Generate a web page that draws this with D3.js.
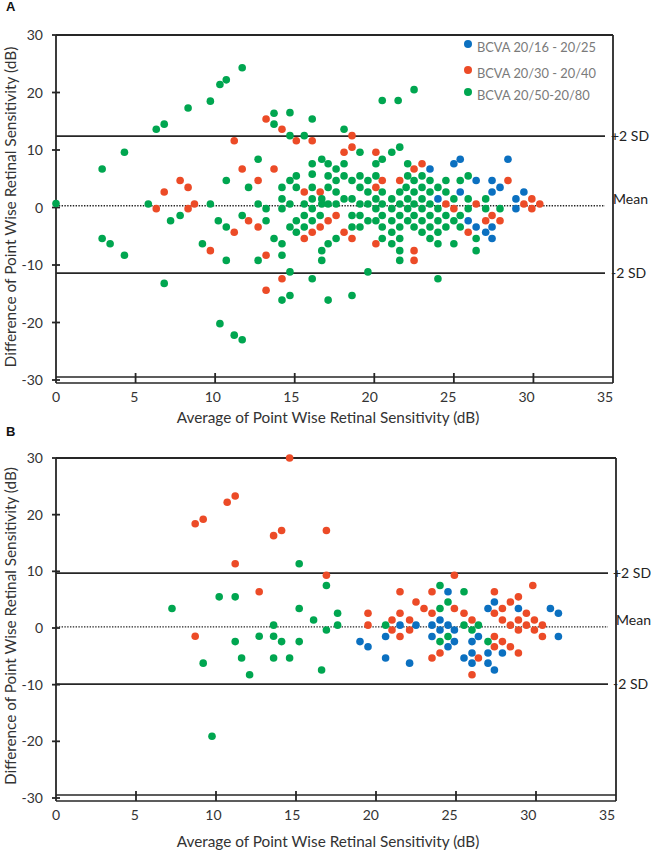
<!DOCTYPE html>
<html><head><meta charset="utf-8">
<script src="https://cdn.jsdelivr.net/npm/d3@7"></script>
<style>body{margin:0;background:#fff}svg{display:block}</style>
</head><body><svg id="c" width="651" height="852"></svg>
<script>
const xTicks=[0,5,10,15,20,25,30,35];
const yTicks=[30,20,10,0,-10,-20,-30];
const seriesNames=["BCVA 20/16 - 20/25","BCVA 20/30 - 20/40","BCVA 20/50-20/80"];
const seriesColors=["#0b70c0","#ec4b27","#00a650"];
const statLabels=["+2 SD","Mean","-2 SD"];
const statsA=[12.4,0.3,-11.4];
const statsB=[9.7,0.2,-9.9];
const xTitle="Average of Point Wise Retinal Sensitivity (dB)";
const yTitle="Difference of Point Wise Retinal Sensitivity (dB)";

const blueA=[[25.4,8.4],[25.0,7.6],[28.4,8.4],[23.5,6.7],[26.4,4.7],[27.4,4.7],[27.9,3.5],[25.4,2.7],[27.4,2.7],[29.4,2.7],[24.0,1.5],[28.9,1.5],[28.9,-0.2],[25.9,-2.3],[26.4,-3.4],[27.4,-3.4],[27.0,-4.3],[27.4,-5.4]];
const redA=[[6.3,-0.2],[6.8,2.7],[7.8,4.7],[8.3,3.5],[8.3,-0.2],[8.7,0.6],[13.2,15.4],[14.2,13.6],[18.6,12.5],[11.2,11.6],[15.1,11.6],[16.1,11.6],[18.6,10.5],[18.1,9.6],[11.7,6.7],[13.7,6.7],[12.7,4.7],[15.6,2.7],[16.6,2.7],[17.6,-1.4],[12.1,-2.3],[17.1,-2.3],[12.7,-3.4],[16.6,-3.4],[11.2,-4.3],[16.1,-4.3],[18.1,-4.3],[15.6,-5.4],[18.6,-5.4],[9.7,-7.5],[13.2,-8.3],[14.2,-12.4],[13.2,-14.4],
[20.1,9.6],[23.0,7.6],[22.5,6.7],[20.5,4.7],[21.6,4.7],[28.4,4.7],[20.1,3.5],[29.9,1.5],[24.5,0.6],[26.4,0.6],[29.4,0.6],[30.4,0.6],[25.0,-0.2],[29.9,-0.2],[27.4,-1.4],[27.0,-2.3],[27.9,-2.3],[25.9,-4.3],[20.1,-6.3],[22.5,-7.5],[22.5,-9.2]];
const greenA=[[0,0.7],[2.9,6.7],[4.3,9.6],[6.3,13.6],[6.8,14.5],[5.8,0.6],[2.9,-5.4],[3.4,-6.3],[4.3,-8.3],[6.8,-13.2],[7.2,-2.3],[7.8,-1.4],
[8.3,17.3],[9.7,18.5],[10.3,21.4],[10.7,22.2],[11.7,24.3],[20.5,18.6],[21.5,18.6],[22.5,20.5],
[10.3,-20.2],[11.2,-22.2],[11.7,-23.0],[14.2,-16.1],[17.1,-16.1],
[13.7,16.4],[14.7,16.5],[16.1,15.4],[13.7,14.5],[18.1,13.6],[14.7,12.5],[15.6,12.5],[19.1,9.6],[12.7,8.4],[16.1,7.6],[16.7,8.4],[17.1,7.6],[18.1,7.6],[17.6,6.7],[16.1,5.8],[17.1,5.5],[18.1,5.5],[15.1,5.5],[19.1,5.5],[10.7,4.7],[14.7,4.7],[17.6,4.7],[18.6,4.7],[19.6,4.7],[12.1,3.5],[14.2,3.5],[15.1,3.5],[16.1,3.5],[17.1,3.5],[19.1,3.5],[17.6,2.7],[19.6,2.7],[14.2,1.5],[16.1,1.5],[16.7,1.5],[18.1,1.5],[18.6,1.5],[9.7,0.6],[12.7,0.6],[14.7,0.6],[15.6,0.6],[16.7,0.6],[17.1,0.6],[17.6,0.6],[19.1,0.6],[19.6,0.6],[13.2,-0.2],[14.2,-0.2],[16.1,-0.2],[11.7,-1.4],[15.6,-1.4],[16.6,-1.4],[18.6,-1.4],[19.1,-1.4],[10.2,-2.3],[13.2,-2.3],[15.1,-2.3],[16.1,-2.3],[19.6,-2.3],[10.7,-3.4],[14.7,-3.4],[15.6,-3.4],[18.6,-3.4],[19.1,-3.4],[15.1,-4.3],[17.6,-5.4],[13.7,-5.4],[17.1,-6.3],[14.2,-6.3],[9.2,-6.3],[16.7,-7.5],[14.2,-8.3],[10.7,-9.2],[12.7,-9.2],[16.7,-9.2],[14.7,-11.2],[19.6,-11.2],[16.1,-12.4],[14.7,-15.3],[18.6,-15.3],
[21.6,10.5],[21.1,9.6],[20.5,8.4],[20.1,7.6],[22.1,7.6],[20.1,5.5],[22.1,5.5],[23.0,5.5],[25.9,5.5],[22.5,4.7],[23.5,4.7],[24.5,4.7],[25.4,4.7],[22.0,3.5],[23.0,3.5],[24.0,3.5],[20.5,2.7],[21.6,2.7],[22.5,2.7],[23.5,2.7],[24.5,2.7],[20.1,1.5],[21.1,1.5],[22.1,1.5],[23.0,1.5],[25.0,1.5],[25.9,1.5],[27.0,1.5],[20.5,0.6],[21.6,0.6],[22.5,0.6],[23.5,0.6],[20.1,-0.2],[21.1,-0.2],[22.1,-0.2],[23.0,-0.2],[24.0,-0.2],[25.9,-0.2],[27.0,-0.2],[27.9,-0.2],[20.5,-1.4],[21.6,-1.4],[22.5,-1.4],[23.5,-1.4],[24.5,-1.4],[25.4,-1.4],[20.1,-2.3],[21.1,-2.3],[22.1,-2.3],[23.0,-2.3],[24.0,-2.3],[25.0,-2.3],[20.5,-3.4],[21.6,-3.4],[22.5,-3.4],[23.5,-3.4],[24.5,-3.4],[25.4,-3.4],[21.1,-4.3],[23.0,-4.3],[24.0,-4.3],[20.5,-5.4],[21.6,-5.4],[23.5,-5.4],[26.4,-5.4],[21.1,-6.3],[24.0,-6.3],[25.0,-6.3],[21.6,-7.5],[26.4,-7.5],[21.6,-9.2],[24.0,-12.4]];

const blueB=[[19.0,-2.4],[19.5,-3.3],[20.6,-1.5],[20.6,-5.3],[21.5,0.5],[22.5,0.5],[22.1,-6.2],[23.5,0.5],[24.0,1.4],[24.0,-0.35],[23.5,-1.5],[24.5,6.4],[24.5,0.5],[24.9,-0.35],[24.9,-2.4],[24.5,-3.3],[26.0,-2.4],[26.4,-1.5],[25.5,-5.3],[26.0,-4.4],[26.0,-6.2],[27.0,-4.4],[27.0,-6.2],[27.4,-7.4],[27.0,3.45],[27.4,4.6],[28.9,3.45],[27.9,-4.4],[30.9,3.45],[31.4,2.6],[31.4,-1.5]];
const redB=[[14.6,30.0],[8.7,18.4],[9.2,19.2],[10.7,22.2],[11.2,23.3],[13.6,16.3],[14.1,17.2],[11.2,11.35],[12.7,6.4],[16.9,17.2],[16.9,9.3],[8.7,-1.46],[21.5,6.4],[19.5,2.6],[19.5,0.5],[21.0,1.4],[21.5,2.6],[22.1,1.4],[21.0,-0.35],[22.1,-0.35],[21.5,-1.5],[22.5,4.6],[23.0,3.45],[23.5,6.4],[23.5,2.6],[24.9,9.3],[24.9,3.45],[25.5,2.6],[26.0,1.4],[23.5,-5.3],[24.0,-4.4],[26.4,-5.3],[26.0,-8.25],[27.4,6.4],[29.8,7.5],[28.9,5.5],[28.4,4.6],[27.9,3.45],[27.4,2.6],[27.9,1.4],[28.4,0.5],[28.9,1.4],[29.4,2.6],[29.4,0.5],[29.9,1.4],[28.9,-0.35],[29.9,-0.35],[30.4,0.5],[30.4,-1.5],[27.4,-1.5],[27.9,-2.4],[27.4,-3.3],[28.4,-3.3],[28.9,-4.4]];
const greenB=[[7.25,3.45],[10.2,5.5],[11.2,5.5],[15.2,11.35],[15.2,3.45],[16.1,1.4],[13.6,0.5],[16.9,7.5],[16.9,-0.35],[9.2,-6.2],[11.2,-2.4],[11.6,-5.3],[12.1,-8.25],[12.7,-1.46],[13.6,-1.46],[13.6,-5.3],[14.1,-2.4],[14.6,-5.3],[15.2,-2.4],[16.6,-7.4],[9.75,-19.1],[17.6,2.6],[17.6,0.5],[20.6,0.5],[24.0,7.5],[24.5,4.6],[24.0,3.45],[25.5,6.4],[25.5,0.5],[26.0,-0.35],[26.4,0.5],[24.5,-1.5],[24.0,-2.4],[27.0,-2.4]];

const FONT="Lato, 'Open Sans', sans-serif";
const INK="#262626";
const svg=d3.select("#c");

function fitW(sel,w){const n=sel.node();const cur=n.getComputedTextLength();const fs=parseFloat(sel.attr("font-size"));sel.attr("font-size",fs*w/cur);}

function panel(cfg,series,stats,legend){
  const g=svg.append("g");
  const x=d3.scaleLinear().domain([0,35]).range([cfg.x0,cfg.x1]);
  const xl=d3.scaleLinear().domain([0,35]).range([cfg.x0,cfg.lx1]);
  const y=d3.scaleLinear().domain([-30,30]).range([cfg.yBot,cfg.yTop]);
  const bot=cfg.yBot+3;
  g.append("line").attr("x1",cfg.x0).attr("x2",cfg.x1).attr("y1",cfg.yTop).attr("y2",cfg.yTop).attr("stroke",INK).attr("stroke-width",1.8);
  g.append("line").attr("x1",cfg.x1).attr("x2",cfg.x1).attr("y1",cfg.yTop).attr("y2",bot).attr("stroke",INK).attr("stroke-width",1.8);
  g.append("line").attr("x1",cfg.x0).attr("x2",cfg.x0).attr("y1",cfg.yTop).attr("y2",bot).attr("stroke",INK).attr("stroke-width",1.8);
  [cfg.yBot-3,cfg.yBot+3].forEach(v=>g.append("line").attr("x1",cfg.x0).attr("x2",cfg.x1).attr("y1",v).attr("y2",v).attr("stroke",INK).attr("stroke-width",1.6));
  g.selectAll(".xt").data(xTicks.filter(t=>t>0&&t<35)).join("line").attr("x1",d=>x(d)).attr("x2",d=>x(d)).attr("y1",cfg.yBot-7).attr("y2",bot).attr("stroke",INK).attr("stroke-width",1.8);
  g.selectAll(".xl").data(xTicks).join("text").attr("x",d=>xl(d)).attr("y",cfg.tickLabelY).attr("text-anchor","middle").attr("font-family",FONT).attr("font-size",14).attr("fill","#333").text(d=>d);
  g.selectAll(".yt").data(yTicks).join("line").attr("x1",cfg.x0-4).attr("x2",cfg.x0+4).attr("y1",d=>y(d)).attr("y2",d=>y(d)).attr("stroke",INK).attr("stroke-width",1.8);
  g.selectAll(".yl").data(yTicks).join("text").attr("x",43).attr("y",d=>y(d)).attr("dy","0.36em").attr("text-anchor","end").attr("font-family",FONT).attr("font-size",14).attr("fill","#333").text(d=>d);
  stats.forEach((s,i)=>{
    const ln=g.append("line").attr("x1",cfg.x0).attr("x2",cfg.sdEnd).attr("y1",y(s)).attr("y2",y(s)).attr("stroke",INK);
    if(i===1) ln.attr("stroke-width",1.4).attr("stroke-dasharray","1.4,1.4"); else ln.attr("stroke-width",1.8);
    g.append("text").attr("x",i===1?cfg.meanX:cfg.labelX).attr("y",y(s)+(i===1?-7:0)).attr("dy","0.36em").attr("font-family",FONT).attr("font-size",14).attr("fill","#222").text(statLabels[i]);
  });
  series.forEach((pts,i)=>{
    g.append("g").selectAll("circle").data(pts).join("circle").attr("cx",d=>x(d[0])).attr("cy",d=>y(d[1])).attr("r",3.8).attr("fill",seriesColors[i]);
  });
  const xt=g.append("text").attr("x",328).attr("y",cfg.titleY).attr("text-anchor","middle").attr("font-family",FONT).attr("font-size",14).attr("fill","#333").text(xTitle);
  fitW(xt,303);
  const yt=g.append("text").attr("transform",`translate(16,${cfg.yTitleCY}) rotate(-90)`).attr("text-anchor","middle").attr("font-family",FONT).attr("font-size",14).attr("fill","#333").text(yTitle);
  fitW(yt,cfg.yTitleW);
  g.append("text").attr("x",6).attr("y",cfg.letterY).attr("font-family","'Liberation Sans', Arial, sans-serif").attr("font-weight","bold").attr("font-size",13).attr("fill","#111").text(cfg.letter);
  if(legend){
    const ly=[44,70,92], tw=[119,119,113];
    seriesNames.forEach((n,i)=>{
      g.append("circle").attr("cx",468).attr("cy",ly[i]).attr("r",4).attr("fill",seriesColors[i]);
      const t=g.append("text").attr("x",477).attr("y",ly[i]+3).attr("dy","0.36em").attr("font-family",FONT).attr("font-size",13).attr("fill","#7a7a7a").text(n);
      fitW(t,tw[i]);
    });
  }
}

panel({letter:"A",x0:56,x1:613,lx1:605,yTop:35,yBot:380,letterY:11,tickLabelY:402,titleY:423,yTitleCY:207,yTitleW:321,sdEnd:605,labelX:611,meanX:613},[blueA,redA,greenA],statsA,true);
panel({letter:"B",x0:56,x1:616,lx1:607,yTop:458,yBot:798,letterY:436,tickLabelY:820,titleY:847,yTitleCY:626,yTitleW:318,sdEnd:608,labelX:613,meanX:616},[blueB,redB,greenB],statsB,false);
</script></body></html>
